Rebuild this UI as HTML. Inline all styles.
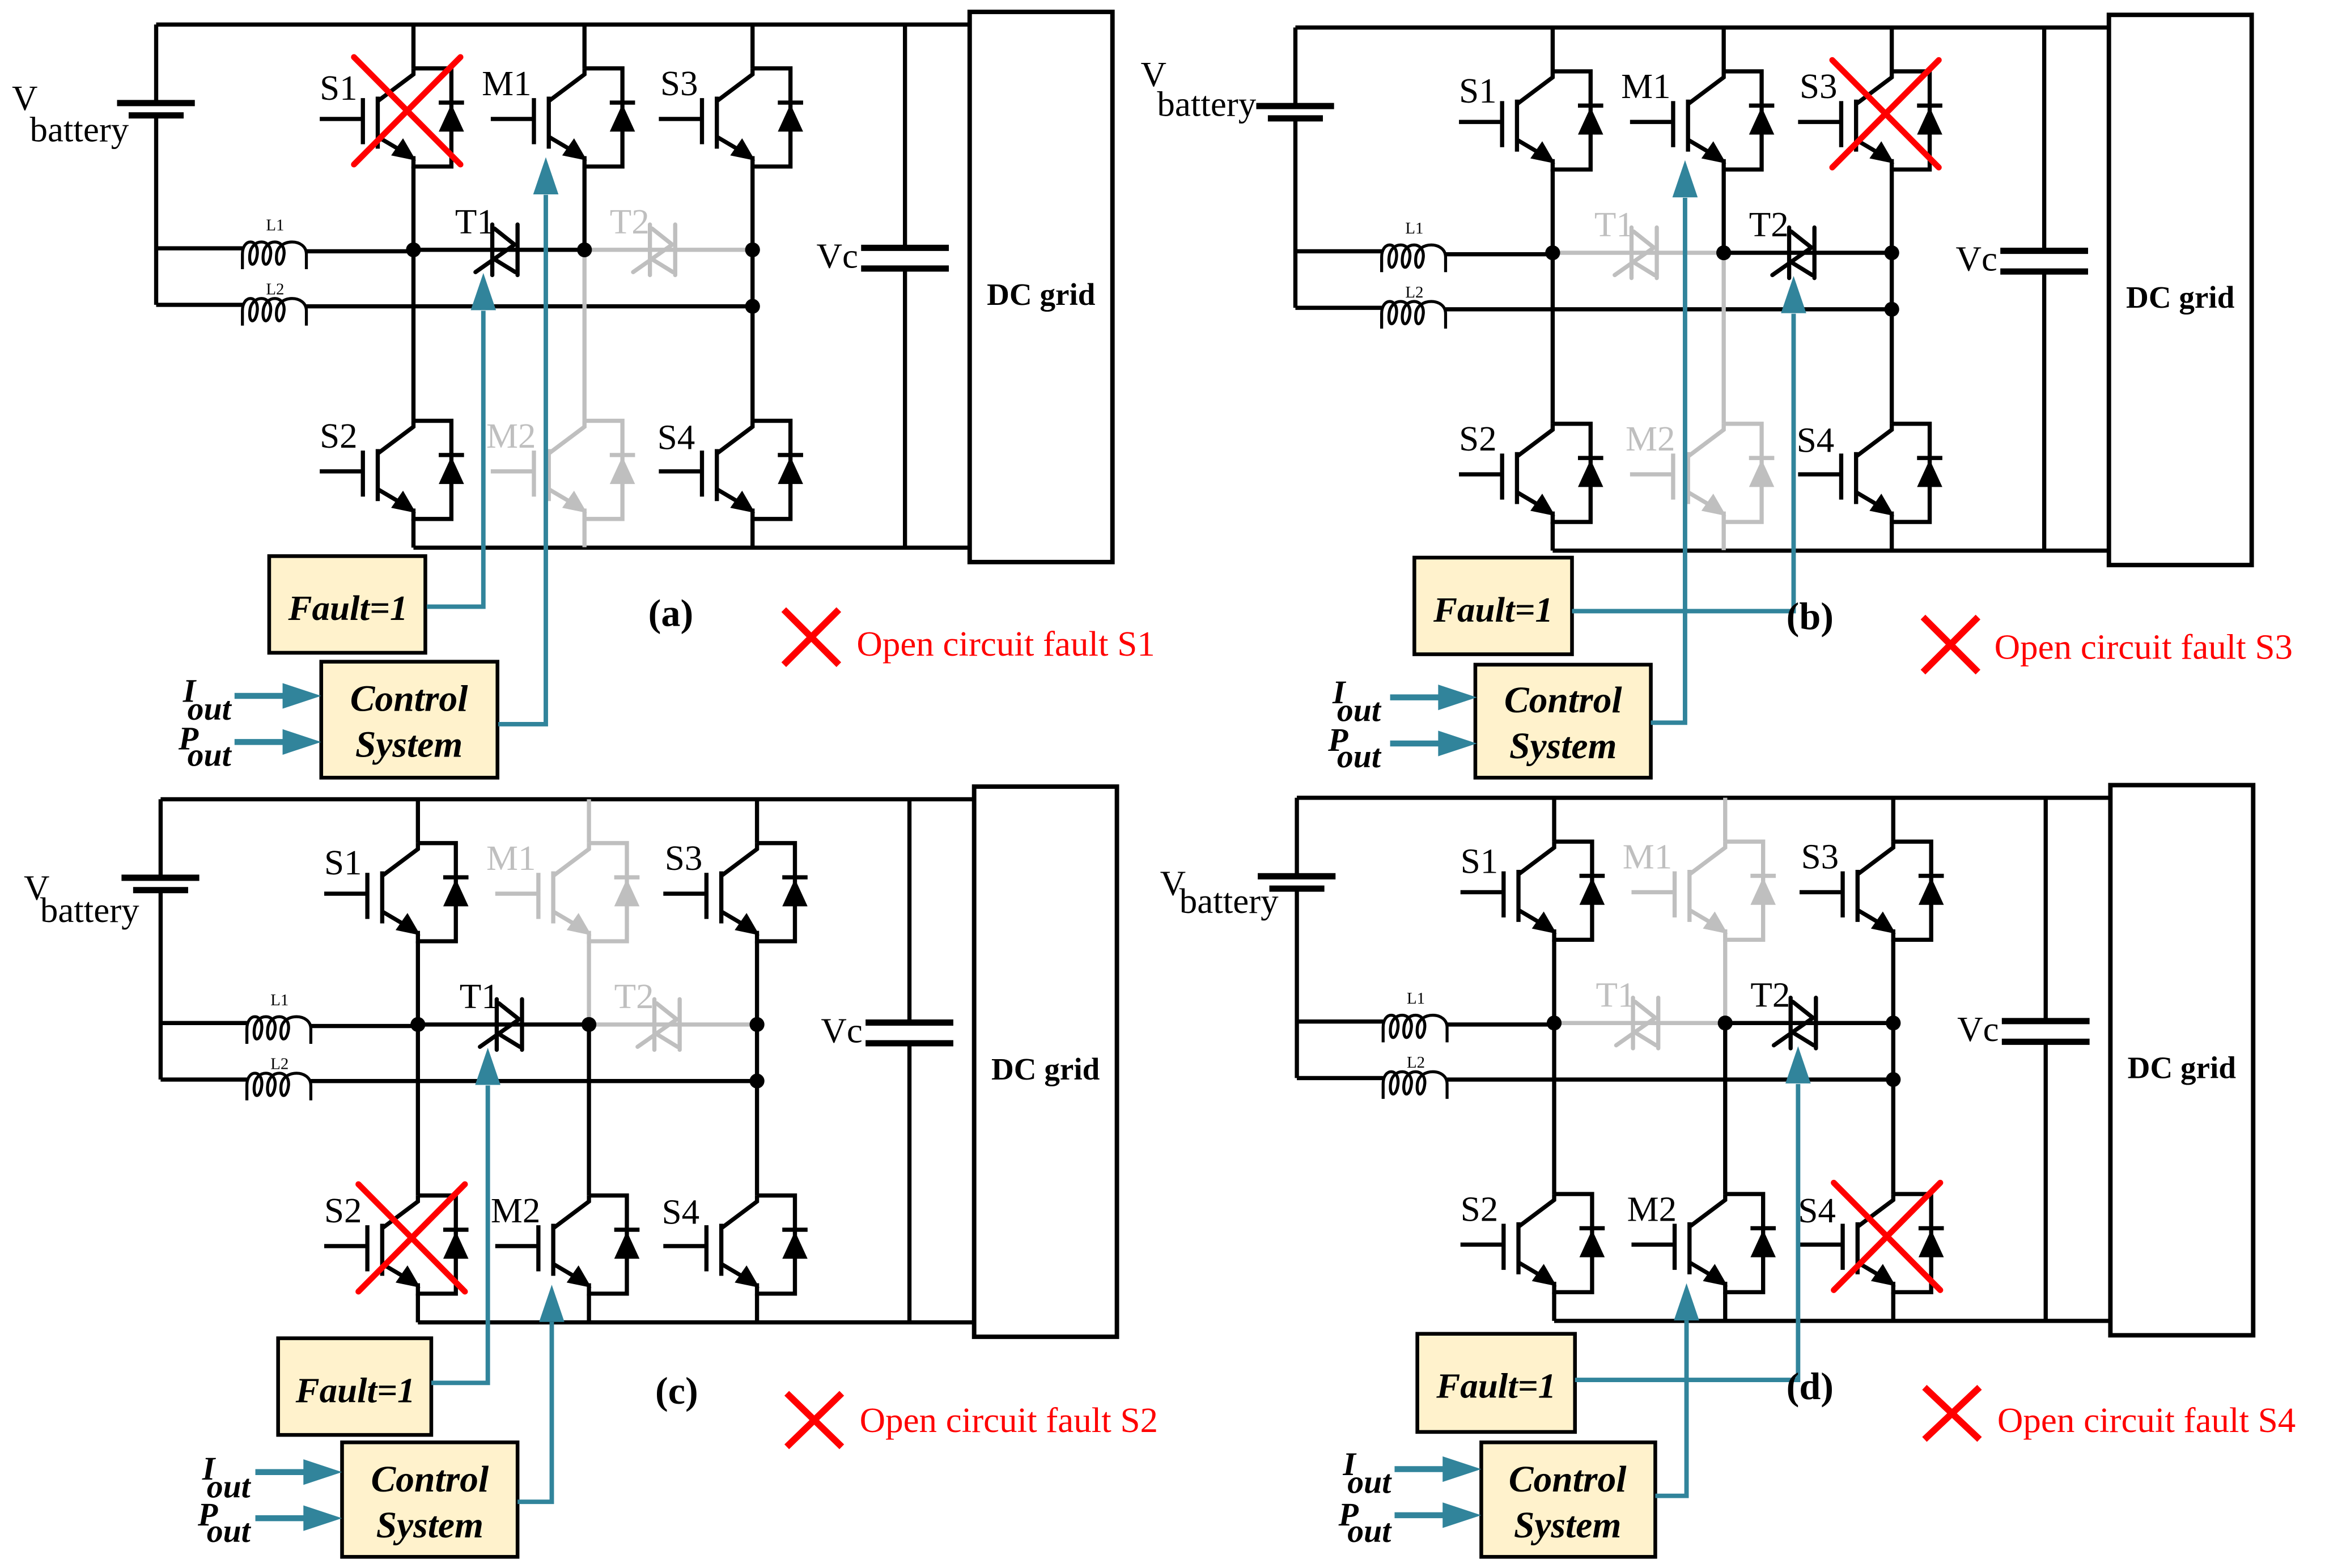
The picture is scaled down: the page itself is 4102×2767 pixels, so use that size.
<!DOCTYPE html>
<html><head><meta charset="utf-8"><style>
html,body{margin:0;padding:0;background:#fff;}
svg{display:block;}
text{font-family:"Liberation Serif",serif;}
</style></head><body>
<svg width="4102" height="2767" viewBox="0 0 1563.3 1054.5" preserveAspectRatio="none" xmlns="http://www.w3.org/2000/svg">
<defs>
<g id="ig">
<path d="M0,0 V4 L-24,22 M-24,19 V54 M-34,20 V51 M-63,34 H-34 M-24,46 L-2,59 M0,59 V66 H25.5 V0 H0 M17,23 H34" fill="none" stroke="currentColor" stroke-width="2.8"/>
<polygon points="25.5,24 17,42.5 34,42.5" fill="currentColor"/>
<polygon points="1.7,62 -15,58.5 -7,47" fill="currentColor"/>
</g>
<g id="th" fill="none" stroke="currentColor" stroke-width="2.8" stroke-linecap="round">
<path d="M0,-16 V18 M17,-16 V18 M1.4,-13.3 L15,-2.5 M2,7.7 L15.5,16 M-11.3,16 L15,-2.5"/>
</g>
<g id="ind" fill="none" stroke="#000" stroke-width="2">
<path d="M0,14 V4 C0,-7 11,-7 10,4 C9,13 4,13 5,4 C6,-7 20,-7 19,4 C18,13 13,13 14,4 C15,-7 29,-7 28,4 C27,13 22,13 23,4 C24,-7 43,-7 43,4 V14"/>
</g>
<polygon id="ba" points="0,0 -8.5,25 8.5,25" fill="#31849b"/>
<g id="rx" stroke="#ff0000" stroke-width="4" stroke-linecap="round">
<path d="M-40,-7.6 L31.6,64.6 M31.6,-7.6 L-40,64.6"/>
</g>
<g id="dots">
<circle cx="278" cy="168" r="5" fill="#000"/>
<circle cx="506" cy="168" r="5" fill="#000"/>
<circle cx="506" cy="206" r="5" fill="#000"/>
<circle cx="393" cy="168" r="5" fill="#000"/>
</g>
<g id="base">
<path d="M105,16.5 H652 M105,16.5 V69 M105,77.6 V205 M105,167 H163 M206,169 H278 M105,205 H163 M206,206 H506 M278,16.5 V46 M278,112 V283 M278,349 V368.3 M506,16.5 V46 M506,112 V283 M506,349 V368.3 M278,368.3 H652 M608.5,16.5 V166.7 M608.5,180.6 V368.3" fill="none" stroke="#000" stroke-width="2.8"/>
<path d="M78.7,69.3 H131 M86.5,77.6 H123.5 M579,166.7 H638 M579,180.6 H638" stroke="#000" stroke-width="4.2"/>
<use href="#ind" x="163" y="167"/>
<use href="#ind" x="163" y="205"/>
<rect x="652" y="8" width="96" height="370" fill="none" stroke="#000" stroke-width="3"/>
<text x="700" y="205" font-size="21" font-weight="bold" text-anchor="middle">DC grid</text>
<text x="185" y="155" font-size="11" text-anchor="middle">L1</text>
<text x="185" y="198" font-size="11" text-anchor="middle">L2</text>
<text x="549" y="180" font-size="24">Vc</text>
<text x="215" y="67" font-size="24">S1</text>
<text x="444" y="64" font-size="24">S3</text>
<text x="215" y="301" font-size="24">S2</text>
<text x="442" y="302" font-size="24">S4</text>
<use href="#ig" x="278" y="46" color="#000"/>
<use href="#ig" x="506" y="46" color="#000"/>
<use href="#ig" x="278" y="283" color="#000"/>
<use href="#ig" x="506" y="283" color="#000"/>
</g>
<g id="ctl">
<path d="M157.7,0 H192" stroke="#31849b" stroke-width="4"/>
<polygon points="190,-8.6 216,0 190,8.6" fill="#31849b"/>
<path d="M157.7,31 H192" stroke="#31849b" stroke-width="4"/>
<polygon points="190,22.4 216,31 190,39.6" fill="#31849b"/>
</g>
</defs>

<!-- Panel (a) -->
<g>
<use href="#base"/>
<text x="8" y="74" font-size="24">V</text><text x="20" y="95" font-size="24">battery</text>
<path d="M393,16.5 V46 M393,112 V168 M278,168 H393" stroke="#000" stroke-width="2.8" fill="none"/>
<path d="M393,168 V283 M393,349 V368 M393,168 H506" stroke="#bfbfbf" stroke-width="2.8" fill="none"/>
<use href="#ig" x="393" y="46" color="#000"/>
<use href="#ig" x="393" y="283" color="#bfbfbf"/>
<use href="#th" x="331" y="167" color="#000"/>
<use href="#th" x="437" y="167" color="#bfbfbf"/>
<use href="#dots"/>
<text x="324" y="64" font-size="24">M1</text>
<text x="327" y="301" font-size="24" fill="#bfbfbf">M2</text>
<text x="306" y="157" font-size="24">T1</text>
<text x="410" y="157" font-size="24" fill="#bfbfbf">T2</text>
<use href="#rx" x="278" y="46"/>
<rect x="181" y="374" width="105" height="65" fill="#fff2cc" stroke="#000" stroke-width="2.5"/>
<text x="234" y="417" font-size="24" font-weight="bold" font-style="italic" text-anchor="middle">Fault=1</text>
<rect x="216" y="445" width="118.5" height="78" fill="#fff2cc" stroke="#000" stroke-width="2.5"/>
<text x="275" y="478" font-size="25" font-weight="bold" font-style="italic" text-anchor="middle">Control</text>
<text x="275" y="509" font-size="25" font-weight="bold" font-style="italic" text-anchor="middle">System</text>
<path d="M287,408 H325 V209 M335,487 H367 V131" stroke="#31849b" stroke-width="3" fill="none"/>
<use href="#ba" x="325" y="183.6"/><use href="#ba" x="367" y="105.7"/>
<use href="#ctl" y="468"/>
<text x="123" y="472" font-size="22" font-weight="bold" font-style="italic">I</text><text x="126" y="484" font-size="22" font-weight="bold" font-style="italic">out</text>
<text x="120" y="504" font-size="22" font-weight="bold" font-style="italic">P</text><text x="126" y="515" font-size="22" font-weight="bold" font-style="italic">out</text>
<text x="451" y="421" font-size="26" font-weight="bold" text-anchor="middle">(a)</text>
<path d="M527,410 L564,447 M564,410 L527,447" stroke="#ff0000" stroke-width="4.5"/>
<text x="576" y="441" font-size="24" fill="#ff0000">Open circuit fault S1</text>
</g>

<!-- Panel (b) -->
<g transform="translate(766,2)">
<use href="#base"/>
<text x="1" y="56" font-size="24">V</text><text x="12" y="76" font-size="24">battery</text>
<path d="M393,16.5 V46 M393,112 V168 M393,168 H506" stroke="#000" stroke-width="2.8" fill="none"/>
<path d="M393,168 V283 M393,349 V368 M278,168 H393" stroke="#bfbfbf" stroke-width="2.8" fill="none"/>
<use href="#ig" x="393" y="46" color="#000"/>
<use href="#ig" x="393" y="283" color="#bfbfbf"/>
<use href="#th" x="331" y="167" color="#bfbfbf"/>
<use href="#th" x="437" y="167" color="#000"/>
<use href="#dots"/>
<text x="324" y="64" font-size="24">M1</text>
<text x="327" y="301" font-size="24" fill="#bfbfbf">M2</text>
<text x="306" y="157" font-size="24" fill="#bfbfbf">T1</text>
<text x="410" y="157" font-size="24">T2</text>
<use href="#rx" x="506" y="46"/>
<rect x="185" y="373" width="106" height="65" fill="#fff2cc" stroke="#000" stroke-width="2.5"/>
<text x="238" y="416" font-size="24" font-weight="bold" font-style="italic" text-anchor="middle">Fault=1</text>
<rect x="226" y="445" width="118" height="76" fill="#fff2cc" stroke="#000" stroke-width="2.5"/>
<text x="285" y="477" font-size="25" font-weight="bold" font-style="italic" text-anchor="middle">Control</text>
<text x="285" y="508" font-size="25" font-weight="bold" font-style="italic" text-anchor="middle">System</text>
<path d="M291,409 H440 V209 M344,484 H367 V131" stroke="#31849b" stroke-width="3" fill="none"/>
<use href="#ba" x="440" y="183.6"/><use href="#ba" x="367" y="105.7"/>
<use href="#ctl" x="11" y="467"/>
<text x="130" y="471" font-size="22" font-weight="bold" font-style="italic">I</text><text x="133" y="483" font-size="22" font-weight="bold" font-style="italic">out</text>
<text x="127" y="503" font-size="22" font-weight="bold" font-style="italic">P</text><text x="133" y="514" font-size="22" font-weight="bold" font-style="italic">out</text>
<text x="451" y="421" font-size="26" font-weight="bold" text-anchor="middle">(b)</text>
<path d="M527,413 L564,450 M564,413 L527,450" stroke="#ff0000" stroke-width="4.5"/>
<text x="575" y="441" font-size="24" fill="#ff0000">Open circuit fault S3</text>
</g>

<!-- Panel (c) -->
<g transform="translate(3,521)">
<use href="#base"/>
<text x="13" y="84" font-size="24">V</text><text x="24" y="99" font-size="24">battery</text>
<path d="M393,168 V283 M393,349 V368 M278,168 H393" stroke="#000" stroke-width="2.8" fill="none"/>
<path d="M393,16.5 V46 M393,112 V168 M393,168 H506" stroke="#bfbfbf" stroke-width="2.8" fill="none"/>
<use href="#ig" x="393" y="46" color="#bfbfbf"/>
<use href="#ig" x="393" y="283" color="#000"/>
<use href="#th" x="331" y="167" color="#000"/>
<use href="#th" x="437" y="167" color="#bfbfbf"/>
<use href="#dots"/>
<text x="324" y="64" font-size="24" fill="#bfbfbf">M1</text>
<text x="327" y="301" font-size="24">M2</text>
<text x="306" y="157" font-size="24">T1</text>
<text x="410" y="157" font-size="24" fill="#bfbfbf">T2</text>
<use href="#rx" x="278" y="283"/>
<rect x="184" y="379" width="103" height="65" fill="#fff2cc" stroke="#000" stroke-width="2.5"/>
<text x="236" y="422" font-size="24" font-weight="bold" font-style="italic" text-anchor="middle">Fault=1</text>
<rect x="227" y="449" width="118" height="77" fill="#fff2cc" stroke="#000" stroke-width="2.5"/>
<text x="286" y="482" font-size="25" font-weight="bold" font-style="italic" text-anchor="middle">Control</text>
<text x="286" y="513" font-size="25" font-weight="bold" font-style="italic" text-anchor="middle">System</text>
<path d="M287,409 H325 V209 M345,489 H368 V368" stroke="#31849b" stroke-width="3" fill="none"/>
<use href="#ba" x="325" y="183.6"/><use href="#ba" x="368" y="343"/>
<use href="#ctl" x="11" y="469"/>
<text x="133" y="474" font-size="22" font-weight="bold" font-style="italic">I</text><text x="136" y="486" font-size="22" font-weight="bold" font-style="italic">out</text>
<text x="130" y="505" font-size="22" font-weight="bold" font-style="italic">P</text><text x="136" y="516" font-size="22" font-weight="bold" font-style="italic">out</text>
<text x="452" y="423" font-size="26" font-weight="bold" text-anchor="middle">(c)</text>
<path d="M526,416 L563,452 M563,416 L526,452" stroke="#ff0000" stroke-width="4.5"/>
<text x="575" y="442" font-size="24" fill="#ff0000">Open circuit fault S2</text>
</g>

<!-- Panel (d) -->
<g transform="translate(767,520)">
<use href="#base"/>
<text x="13" y="82" font-size="24">V</text><text x="26" y="94" font-size="24">battery</text>
<path d="M393,168 V283 M393,349 V368 M393,168 H506" stroke="#000" stroke-width="2.8" fill="none"/>
<path d="M393,16.5 V46 M393,112 V168 M278,168 H393" stroke="#bfbfbf" stroke-width="2.8" fill="none"/>
<use href="#ig" x="393" y="46" color="#bfbfbf"/>
<use href="#ig" x="393" y="283" color="#000"/>
<use href="#th" x="331" y="167" color="#bfbfbf"/>
<use href="#th" x="437" y="167" color="#000"/>
<use href="#dots"/>
<text x="324" y="64" font-size="24" fill="#bfbfbf">M1</text>
<text x="327" y="301" font-size="24">M2</text>
<text x="306" y="157" font-size="24" fill="#bfbfbf">T1</text>
<text x="410" y="157" font-size="24">T2</text>
<use href="#rx" x="506" y="283"/>
<rect x="186" y="377" width="106" height="66" fill="#fff2cc" stroke="#000" stroke-width="2.5"/>
<text x="239" y="420" font-size="24" font-weight="bold" font-style="italic" text-anchor="middle">Fault=1</text>
<rect x="229" y="450" width="117" height="77" fill="#fff2cc" stroke="#000" stroke-width="2.5"/>
<text x="287" y="483" font-size="25" font-weight="bold" font-style="italic" text-anchor="middle">Control</text>
<text x="287" y="514" font-size="25" font-weight="bold" font-style="italic" text-anchor="middle">System</text>
<path d="M292,408 H442 V209 M346,486 H367 V368" stroke="#31849b" stroke-width="3" fill="none"/>
<use href="#ba" x="442" y="183.6"/><use href="#ba" x="367" y="343"/>
<use href="#ctl" x="13" y="468"/>
<text x="136" y="472" font-size="22" font-weight="bold" font-style="italic">I</text><text x="139" y="484" font-size="22" font-weight="bold" font-style="italic">out</text>
<text x="133" y="506" font-size="22" font-weight="bold" font-style="italic">P</text><text x="139" y="517" font-size="22" font-weight="bold" font-style="italic">out</text>
<text x="450" y="421" font-size="26" font-weight="bold" text-anchor="middle">(d)</text>
<path d="M527,413 L564,448 M564,413 L527,448" stroke="#ff0000" stroke-width="4.5"/>
<text x="576" y="443" font-size="24" fill="#ff0000">Open circuit fault S4</text>
</g>
</svg>
</body></html>
